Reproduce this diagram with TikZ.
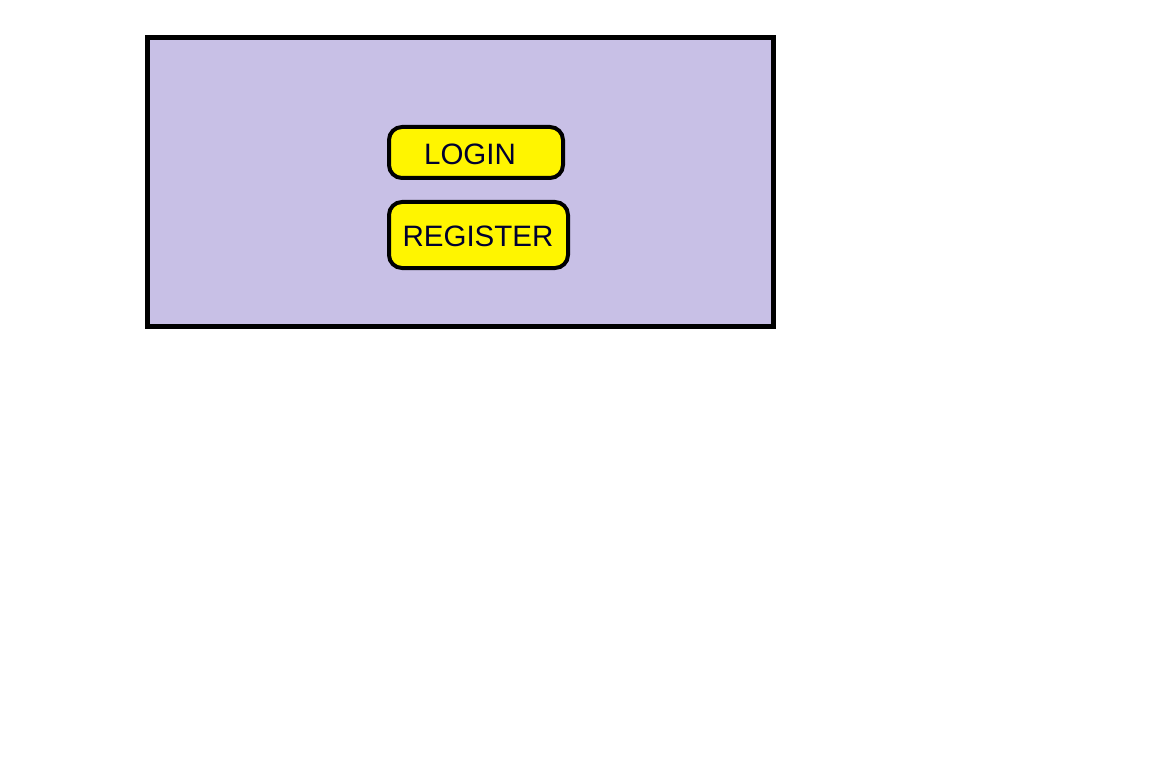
\documentclass[tikz,border=0pt]{standalone}
\usepackage{fontspec}
\setmainfont{Liberation Sans}
\definecolor{panel}{RGB}{200,192,230}
\definecolor{btn}{RGB}{255,245,0}
\definecolor{txt}{RGB}{0,0,48}
\begin{document}
\begin{tikzpicture}[x=1pt,y=-1pt,
  panelbox/.style={draw=black,line width=5pt,fill=panel,inner sep=0pt,outer sep=0pt},
  button/.style={draw=black,line width=4pt,fill=btn,rounded corners=13pt,inner sep=0pt,outer sep=0pt},
  lbl/.style={text=txt,font=\fontsize{29.5}{34}\selectfont,anchor=base,inner sep=0pt}]
\useasboundingbox (0,0) rectangle (1152,781);
\node[panelbox,minimum width=625.5pt,minimum height=288.5pt] (panel) at (460.25,181.75) {};
\node[button,minimum width=174pt,minimum height=51pt] (loginbtn) at (476,152.5) {};
\node[lbl] (login) at (470,165) {LOGIN};
\node[button,minimum width=179pt,minimum height=66pt] (registerbtn) at (478.5,235) {};
\node[lbl] (register) at (478,246) {REGISTER};
\end{tikzpicture}
\end{document}
